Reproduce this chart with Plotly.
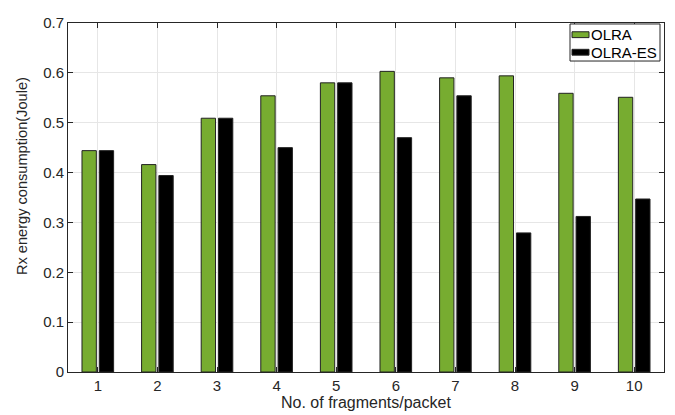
import plotly.graph_objects as go

categories = [1, 2, 3, 4, 5, 6, 7, 8, 9, 10]
olra = [0.444, 0.416, 0.509, 0.554, 0.580, 0.603, 0.590, 0.594, 0.559, 0.551]
olra_es = [0.444, 0.394, 0.509, 0.450, 0.580, 0.470, 0.554, 0.279, 0.312, 0.347]
y_ticks = [0, 0.1, 0.2, 0.3, 0.4, 0.5, 0.6, 0.7]
series_names = ["OLRA", "OLRA-ES"]
series_colors = ["#77AC30", "#000000"]

font = "Liberation Sans, Arial, sans-serif"
axis_color = "#262626"

# page body has an 8px default margin; compensate so the plot lands where the reference has it
OFF = 8
W, H = 675 - OFF, 415 - OFF
PL, PR, PT, PB = 68, 664, 14, 372  # plot area in screen pixels
L, T = PL - OFF, PT - OFF
R, B = W - (PR - OFF), H - (PB - OFF)
pw, ph = PR - PL, PB - PT

def px(x):  # screen pixel x -> paper
    return (x - PL) / pw

def py(y):  # screen pixel y -> paper
    return (PB - y) / ph

fig = go.Figure()
for name, vals, col in zip(series_names, [olra, olra_es], series_colors):
    fig.add_trace(go.Bar(x=categories, y=vals, name=name, showlegend=False,
                         marker=dict(color=col, line=dict(color="#222222", width=1))))

shapes = []
annotations = []
# legend box
shapes.append(dict(type="rect", xref="paper", yref="paper",
                   x0=px(570), x1=px(660), y0=py(53), y1=py(15),
                   fillcolor="white", line=dict(color=axis_color, width=1), layer="above"))
for i, (name, col) in enumerate(zip(series_names, series_colors)):
    cy = 26 + 18 * i
    shapes.append(dict(type="rect", xref="paper", yref="paper",
                       x0=px(572), x1=px(589), y0=py(cy + 3), y1=py(cy - 3),
                       fillcolor=col, line=dict(color="#222222", width=1), layer="above"))
    annotations.append(dict(xref="paper", yref="paper", x=px(589), y=py(cy),
                            xanchor="left", yanchor="middle", showarrow=False,
                            text=name, font=dict(size=15, color="#000000", family=font)))
# y axis title
annotations.append(dict(xref="paper", yref="paper", x=px(22), y=py(171),
                        xanchor="center", yanchor="middle", showarrow=False, textangle=-90,
                        text="Rx energy consumption(Joule)",
                        font=dict(size=14.6, color=axis_color, family=font)))
# x axis title
annotations.append(dict(xref="paper", yref="paper", x=px(366), y=py(403),
                        xanchor="center", yanchor="middle", showarrow=False,
                        text="No. of fragments/packet",
                        font=dict(size=16, color=axis_color, family=font)))

fig.update_layout(
    width=W, height=H,
    margin=dict(l=L, r=R, t=T, b=B, pad=0),
    paper_bgcolor="white", plot_bgcolor="white",
    barmode="group", bargap=0.42, bargroupgap=0.17,
    font=dict(family=font, size=15, color=axis_color),
    showlegend=False,
    shapes=shapes, annotations=annotations,
)
fig.update_xaxes(
    range=[0.5, 10.5], tickmode="array", tickvals=categories,
    ticktext=[str(c) for c in categories],
    showgrid=True, gridcolor="#e6e6e6", gridwidth=1,
    showline=True, linecolor=axis_color, linewidth=1, mirror="ticks",
    ticks="inside", ticklen=5, tickcolor=axis_color,
    tickfont=dict(size=15), ticklabeloverflow="allow",
    zeroline=False,
)
fig.update_yaxes(
    range=[0, 0.7], tickmode="array", tickvals=y_ticks,
    ticktext=["0", "0.1", "0.2", "0.3", "0.4", "0.5", "0.6", "0.7"],
    showgrid=True, gridcolor="#e6e6e6", gridwidth=1,
    showline=True, linecolor=axis_color, linewidth=1, mirror="ticks",
    ticks="inside", ticklen=5, tickcolor=axis_color,
    tickfont=dict(size=15), ticklabeloverflow="allow",
    zeroline=False,
)

fig.write_html("out.html")
